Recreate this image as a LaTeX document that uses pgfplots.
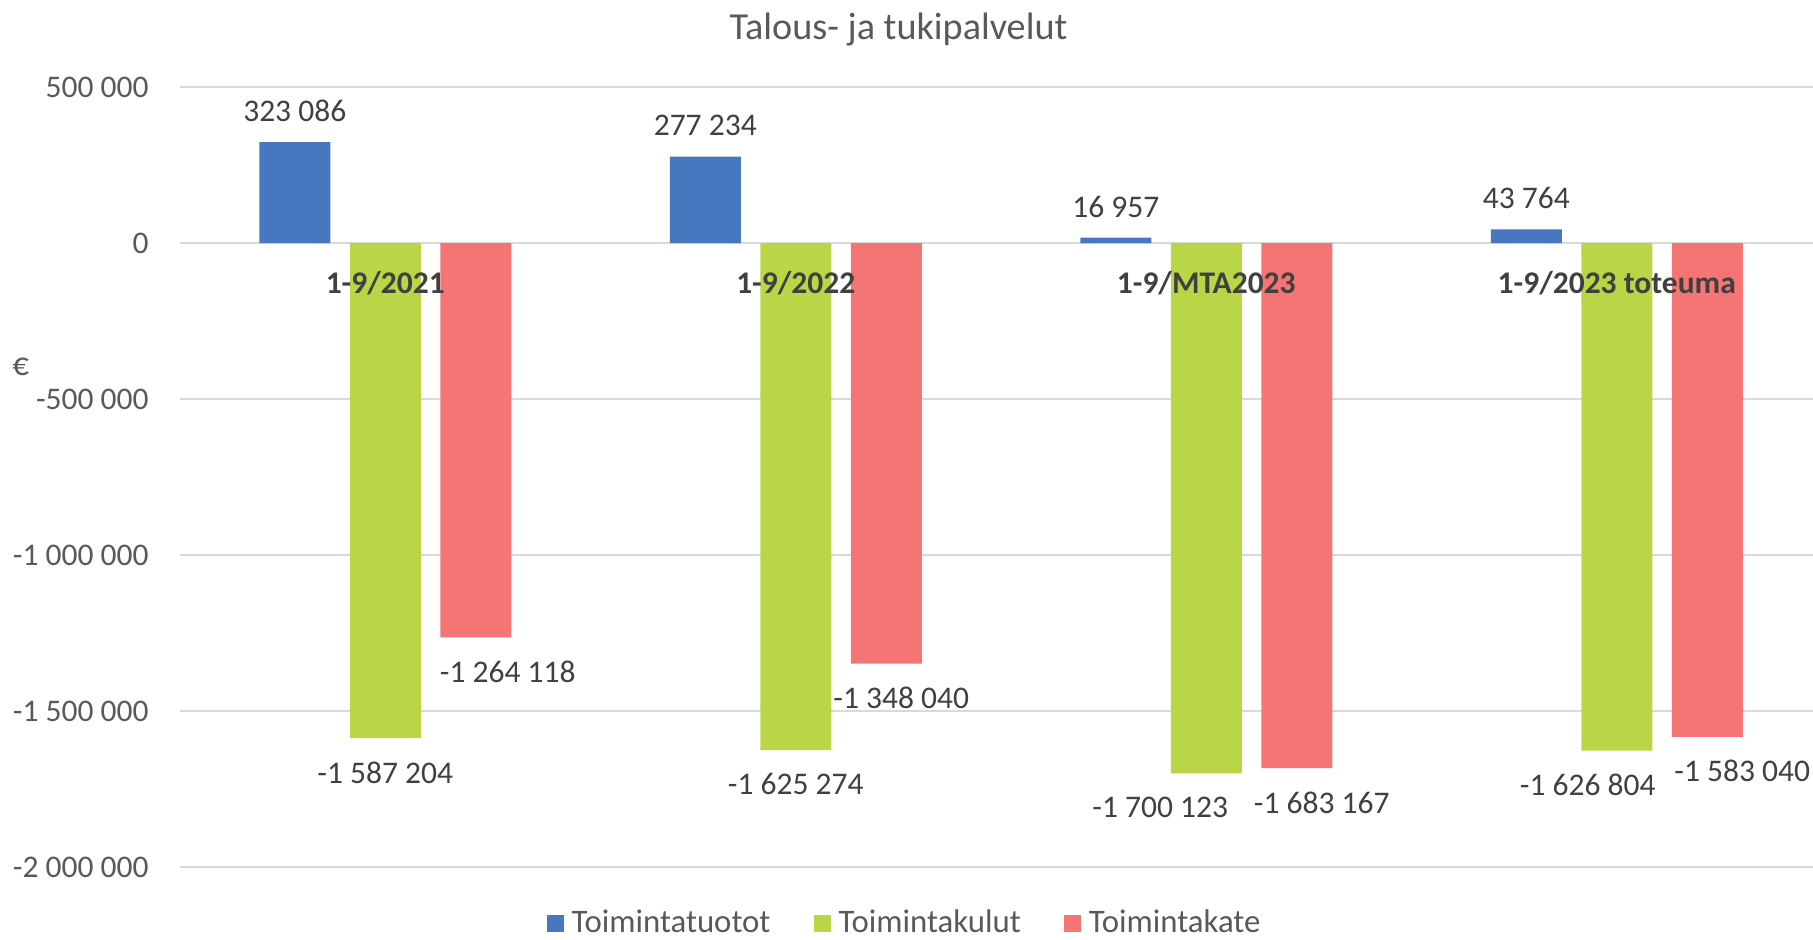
\documentclass[border=0pt]{standalone}
\usepackage{fontspec}
\setmainfont{Carlito}
\usepackage{pgfplots}
\usepackage{pgfplotstable}
\pgfplotsset{compat=1.18}
\definecolor{cblue}{HTML}{4677BF}
\definecolor{cgreen}{HTML}{B8D645}
\definecolor{cred}{HTML}{F57474}
\definecolor{cgrid}{HTML}{D9D9D9}
\definecolor{ctext}{HTML}{595959}
\definecolor{cdark}{HTML}{404040}
\newcommand{\lbl}{\fontsize{15.75}{18}\selectfont}

% dx = horizontal offset of the value label from the bar group centre (pt)
\pgfplotstableread[col sep=comma,row sep=\\]{
x,y,dx,label\\
0,323086,-45.25,323 086\\
1,277234,-45.25,277 234\\
2,16957,-45.25,16 957\\
3,43764,-45.25,43 764\\
}\tuotot
\pgfplotstableread[col sep=comma,row sep=\\]{
x,y,dx,label\\
0,-1587204,0,-1 587 204\\
1,-1625274,0,-1 625 274\\
2,-1700123,-23,-1 700 123\\
3,-1626804,-14.5,-1 626 804\\
}\kulut
\pgfplotstableread[col sep=comma,row sep=\\]{
x,y,dx,label\\
0,-1264118,61.25,-1 264 118\\
1,-1348040,52.75,-1 348 040\\
2,-1683167,57.75,-1 683 167\\
3,-1583040,62.75,-1 583 040\\
}\kate
\pgfplotstableread[col sep=comma,row sep=\\]{
x,y,label\\
0,0,1-9/2021\\
1,0,1-9/2022\\
2,0,1-9/MTA2023\\
3,0,1-9/2023 toteuma\\
}\kategoriat

\begin{document}
\begin{tikzpicture}
\useasboundingbox (0,0) rectangle (906.5pt,469.5pt);
\begin{axis}[
  at={(90pt,36pt)}, anchor=south west,
  width=821pt, height=390pt, scale only axis,
  clip=false,
  xmin=-0.5, xmax=3.5, ymin=-2000000, ymax=500000,
  xtick=\empty,
  ytick={-2000000,-1500000,-1000000,-500000,0,500000},
  yticklabels={-2 000 000,-1 500 000,-1 000 000,-500 000,0,500 000},
  scaled y ticks=false,
  /pgf/number format/assume math mode=true,
  axis line style={draw=none},
  major tick length=0pt,
  tick style={draw=none},
  ymajorgrids, xmajorgrids=false,
  grid style={line width=1pt, color=cgrid},
  y tick label style={anchor=east, inner sep=0pt, xshift=-15.5pt, font=\lbl, text=ctext},
  legend columns=3,
  legend image code/.code={\fill[#1,draw=none] (0pt,-4.75pt) rectangle (8.5pt,3.75pt);},
  legend style={at={(0.4406,-0.0712)}, anchor=center, draw=none, fill=none,
    inner sep=0pt, outer sep=0pt,
    nodes={inner sep=0pt, font=\fontsize{16.4}{19}\selectfont, text=ctext},
    /tikz/every odd column/.append style={column sep=4pt},
    /tikz/every even column/.append style={column sep=21.5pt}},
]
\addplot[ybar, bar width=35.5pt, bar shift=-45.25pt, fill=cblue, draw=none,
  nodes near coords, point meta=explicit symbolic,
  visualization depends on={\thisrow{dx} \as \labeldx},
  every node near coord/.append style={anchor=south, inner sep=0pt, yshift=10pt, xshift=\labeldx pt, font=\lbl, text=cdark}]
  table[x=x, y=y, meta=label]{\tuotot};
\addplot[ybar, bar width=35.5pt, bar shift=0pt, fill=cgreen, draw=none,
  nodes near coords, point meta=explicit symbolic,
  visualization depends on={\thisrow{dx} \as \labeldx},
  every node near coord/.append style={anchor=north, inner sep=0pt, yshift=-11.5pt, xshift=\labeldx pt, font=\lbl, text=cdark}]
  table[x=x, y=y, meta=label]{\kulut};
\addplot[ybar, bar width=35.5pt, bar shift=45.25pt, fill=cred, draw=none,
  nodes near coords, point meta=explicit symbolic,
  visualization depends on={\thisrow{dx} \as \labeldx},
  every node near coord/.append style={anchor=north, inner sep=0pt, yshift=-11.5pt, xshift=\labeldx pt, font=\lbl, text=cdark}]
  table[x=x, y=y, meta=label]{\kate};
\legend{Toimintatuotot, Toimintakulut, Toimintakate}
\addplot[forget plot, draw=none, mark=none,
  nodes near coords, point meta=explicit symbolic,
  every node near coord/.append style={anchor=base, inner sep=0pt, yshift=-25pt, font=\lbl\bfseries, text=cdark}]
  table[x=x, y=y, meta=label]{\kategoriat};
\end{axis}
\node[anchor=base, font=\fontsize{19.1}{23}\selectfont, text=ctext] at (449.25pt,449.5pt) {Talous- ja tukipalvelut};
\node[anchor=center, font=\fontsize{16.5}{19}\selectfont, text=ctext] at (10.35pt,286.25pt) {€};
\end{tikzpicture}
\end{document}
